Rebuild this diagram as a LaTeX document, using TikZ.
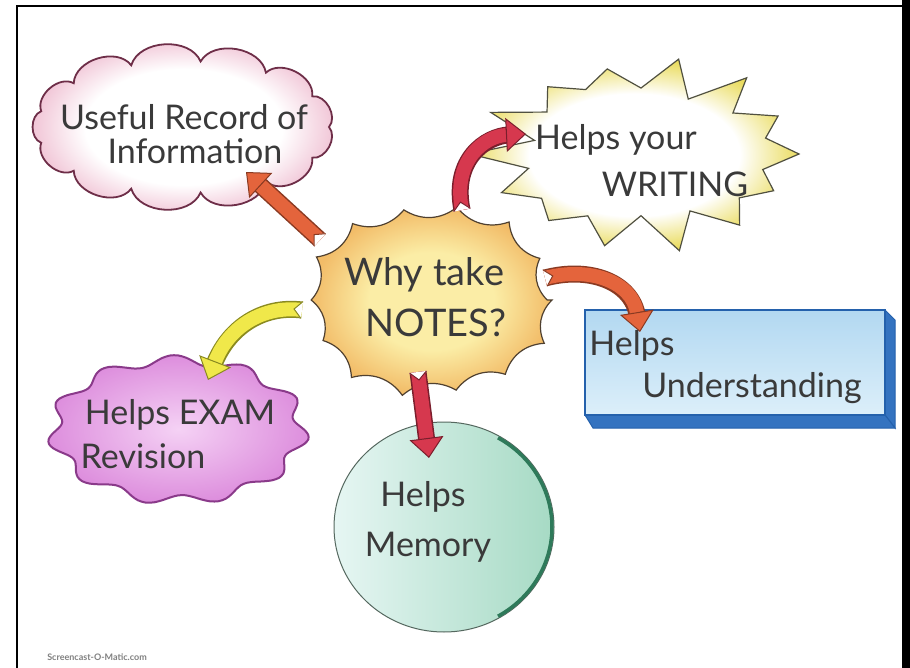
\documentclass[tikz,border=0pt]{standalone}
\usepackage{fontspec}
\setmainfont{Lato}
\usetikzlibrary{arrows.meta,calc}
\definecolor{inkc}{HTML}{3A3A3A}
\definecolor{cloudfill}{HTML}{F0C2D4}
\definecolor{cloudline}{HTML}{6E2E48}
\definecolor{sunin}{HTML}{FBEDA6}
\definecolor{sunout}{HTML}{F2BC68}
\definecolor{sunline}{HTML}{4F4030}
\definecolor{wrout}{HTML}{EADC60}
\definecolor{wrline}{HTML}{505040}
\definecolor{purin}{HTML}{F5D2F5}
\definecolor{purout}{HTML}{DD8EDD}
\definecolor{purline}{HTML}{8A3A8A}
\definecolor{mintl}{HTML}{E6F6F3}
\definecolor{mintr}{HTML}{A6DAC4}
\definecolor{mintline}{HTML}{55685F}
\definecolor{mintdark}{HTML}{2E7A5A}
\definecolor{boxtop}{HTML}{B2D8F1}
\definecolor{boxbot}{HTML}{DCEFFA}
\definecolor{boxline}{HTML}{2461AC}
\definecolor{boxside}{HTML}{3473C0}
\definecolor{aorange}{HTML}{E4643C}
\definecolor{aorangel}{HTML}{8A3A22}
\definecolor{ared}{HTML}{D6384E}
\definecolor{aredl}{HTML}{7A1E2C}
\definecolor{ayellow}{HTML}{F0E84A}
\definecolor{ayellowl}{HTML}{8A8A20}
\pgfdeclareradialshading{cloudglow}{\pgfpoint{0bp}{0bp}}{color(0bp)=(white); color(16bp)=(white); color(25bp)=(cloudfill); color(50bp)=(cloudfill)}
\pgfdeclareradialshading{sunglow}{\pgfpoint{0bp}{0bp}}{color(0bp)=(sunin); color(13bp)=(sunin); color(25bp)=(sunout); color(50bp)=(sunout)}
\pgfdeclareradialshading{wrglow}{\pgfpoint{0bp}{0bp}}{color(0bp)=(white); color(16bp)=(white); color(25bp)=(wrout); color(50bp)=(wrout)}
\tikzset{
  txt/.style={text=inkc, font=\fontsize{34}{38}\selectfont, inner sep=0pt},
  bigtxt/.style={txt, font=\fontsize{38}{42}\selectfont},
  barrow/.style n args={2}{
    preaction={draw=#2, line width=17pt, shorten >=16pt, arrows=-, line cap=butt},
    draw=#1, line width=14pt, line cap=butt,
    -{Triangle[length=20pt, width=34pt, color=#2, fill=#1, line width=1pt]}},
}
% notch at the tail of a block arrow: #1 tail point, #2 point the shaft heads to, #3 outline colour
\newcommand\tailnotch[3]{%
  \fill[white] ($(#1)!9pt!90:(#2)$) -- ($(#1)!8pt!(#2)$) -- ($(#1)!9pt!-90:(#2)$) -- cycle;
  \draw[#3, line width=1pt, line join=miter] ($(#1)!8.5pt!90:(#2)$) -- ($(#1)!8pt!(#2)$) -- ($(#1)!8.5pt!-90:(#2)$);
}
\begin{document}
\begin{tikzpicture}[x=1pt,y=-1pt]
\useasboundingbox (0,0) rectangle (910,668);
\fill[white] (0,0) rectangle (910,668);
% frame
\fill[black] (902,0) rectangle (910,668);
\draw[line width=1.5pt] (17,668) -- (17,6) -- (902,6);

% cloud: Useful Record of Information
\shade[shading=cloudglow, draw=cloudline, line width=1.8pt]
  ({183+146},127) \foreach \i in {1,...,13} { to[bend left=70] ({183+146*cos(\i*360/13)},{127+66*sin(\i*360/13)}) } -- cycle;

% writing star
\shade[shading=wrglow, draw=wrline, line width=1.2pt, line join=miter]
  ({641+158},154) \foreach \i in {1,...,27} { -- ({641+160*(mod(\i,2)==0 ? 1 : 0.74)*(1+0.08*sin(\i*137))*cos(\i*360/28)},{154+92*(mod(\i,2)==0 ? 1 : 0.72)*(1+0.08*sin(\i*137))*sin(\i*360/28)}) } -- cycle;

% centre sun
\shade[shading=sunglow, draw=sunline, line width=1.2pt]
  ({430+122},300) \foreach \i in {1,...,14} { to[bend right=35] ({430+122*(1+0.04*sin(\i*97))*cos(\i*360/14)},{300+96*(1+0.04*sin(\i*97))*sin(\i*360/14)}) } -- cycle;

% purple blob
\shade[inner color=purin, outer color=purout, draw=purline, line width=2pt]
  plot[domain=0:356.4, samples=100, smooth cycle] ({178+124*(1+0.06*sin(11*\x+20))*cos(\x)},{430+70*(1+0.07*sin(11*\x+20))*sin(\x)});

% circle
\shade[left color=mintl, right color=mintr, draw=mintline, line width=1pt] (444,527) ellipse [x radius=110, y radius=105];
\draw[mintdark, line width=3.5pt] ({444+108*cos(-60)},{527+103*sin(-60)}) arc[start angle=-60, end angle=60, x radius=108, y radius=103];

% 3D box
\fill[boxside, draw=boxline, line width=1pt] (885,310) -- (895,320) -- (895,428) -- (885,415) -- cycle;
\fill[boxside, draw=boxline, line width=1pt] (585,415) -- (885,415) -- (895,428) -- (593,428) -- cycle;
\shade[top color=boxtop, bottom color=boxbot, draw=boxline, line width=2pt] (585,310) rectangle (885,415);

% connector end points
\coordinate (a1s) at (320,240);
\coordinate (a1e) at (246,172);
\coordinate (a2s) at (462,210);
\coordinate (a2c) at (452,160);
\coordinate (a2e) at (526,134);
\coordinate (a3s) at (545,278);
\coordinate (a3c) at (590,266);
\coordinate (a3e) at (640,332);
\coordinate (a4s) at (302,310);
\coordinate (a4c) at (262,305);
\coordinate (a4e) at (208,380);
\coordinate (a5s) at (418,372);
\coordinate (a5e) at (429,458);

\draw[barrow={aorange}{aorangel}] (a1s) -- (a1e);
\draw[barrow={ared}{aredl}] (a2s) .. controls (a2c) and (485,136) .. (a2e);
\draw[barrow={aorange}{aorangel}] (a3s) .. controls (a3c) and (632,282) .. (a3e);
\draw[barrow={ayellow}{ayellowl}] (a4s) .. controls (a4c) and (228,328) .. (a4e);
\draw[barrow={ared}{aredl}] (a5s) -- (a5e);
\tailnotch{a1s}{a1e}{aorangel}
\tailnotch{a2s}{a2c}{aredl}
\tailnotch{a3s}{a3c}{aorangel}
\tailnotch{a4s}{a4c}{ayellowl}
\tailnotch{a5s}{a5e}{aredl}

% texts
\node[txt] (rec1) at (184,117) {Useful Record of};
\node[txt] (rec2) at (195,151) {Information};
\node[bigtxt] (why1) at (424,275) {Why take};
\node[bigtxt] (why2) at (436,323) {NOTES?};
\node[txt] (wr1) at (616,140) {Helps your};
\node[txt] (wr2) at (675,184) {WRITING};
\node[txt] (un1) at (632,346) {Helps};
\node[txt] (un2) at (752,388) {Understanding};
\node[txt] (me1) at (423,497) {Helps};
\node[txt] (me2) at (428,547) {Memory};
\node[txt] (ex1) at (180,415) {Helps EXAM};
\node[txt] (ex2) at (143,456) {Revision};
\node[text=gray, font=\bfseries\fontsize{9}{10}\selectfont, inner sep=0pt] (wm) at (97,657) {Screencast-O-Matic.com};
\end{tikzpicture}
\end{document}
